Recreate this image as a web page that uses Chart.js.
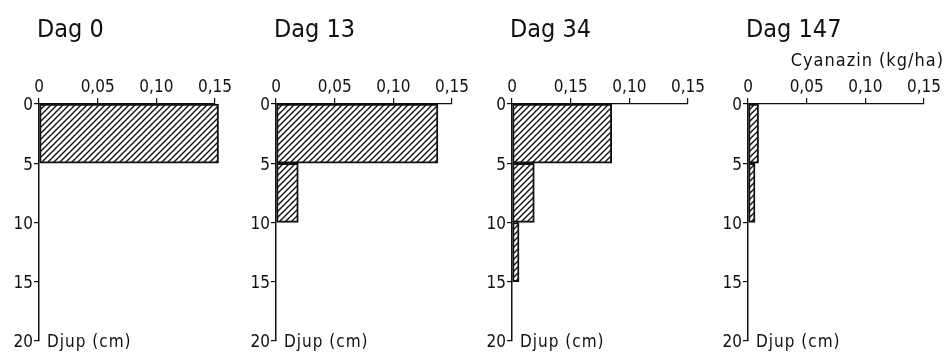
<!DOCTYPE html>
<html>
<head>
<meta charset="utf-8">
<script src="https://cdn.jsdelivr.net/npm/chart.js@4.4.1/dist/chart.umd.min.js"></script>
<style>
  body { margin: 0; background: #fff; }
  #wrap { position: relative; width: 945px; height: 353px; overflow: hidden; }
  .panel { position: absolute; top: 0; width: 236px; height: 353px; }
</style>
</head>
<body>
<div id="wrap">
  <div class="panel" style="left:0px"><canvas id="c0"></canvas></div>
  <div class="panel" style="left:237px"><canvas id="c1"></canvas></div>
  <div class="panel" style="left:473px"><canvas id="c2"></canvas></div>
  <div class="panel" style="left:709px"><canvas id="c3"></canvas></div>
</div>
<script>
// Jordlager (cm), överkant
const depthTop = [0, 5, 10, 15];
const layerSize = 5;

// Cyanazin (kg/ha) per lager
const days = ["Dag 0", "Dag 13", "Dag 34", "Dag 147"];
const dag0 = [0.153, 0, 0, 0];
const dag13 = [0.138, 0.019, 0, 0];
const dag34 = [0.085, 0.019, 0.006, 0];
const dag147 = [0.009, 0.006, 0, 0];

// tick labels (Dag 34 har "0,15" på 0,05-platsen i originalet)
const xTicksStd = ["0", "0,05", "0,10", "0,15"];
const xTicks34 = ["0", "0,15", "0,10", "0,15"];
const yTicks = [0, 5, 10, 15, 20];

const FONT = '"DejaVu Sans Condensed", "DejaVu Sans", sans-serif';
const INK = "#111";

function hatch() {
  const s = 6;
  const c = document.createElement("canvas");
  c.width = s; c.height = s;
  const g = c.getContext("2d");
  g.strokeStyle = INK;
  g.lineWidth = 1.4;
  g.beginPath();
  g.moveTo(0, s); g.lineTo(s, 0);
  g.moveTo(-1, 1); g.lineTo(1, -1);
  g.moveTo(s - 1, s + 1); g.lineTo(s + 1, s - 1);
  g.stroke();
  return g.createPattern(c, "repeat");
}

// rubrik, djup-etikett, enhet
const panelText = {
  id: "panelText",
  afterDraw(chart, args, opts) {
    const { ctx, chartArea, scales } = chart;
    ctx.save();
    ctx.fillStyle = INK;
    ctx.textBaseline = "alphabetic";
    ctx.font = "25px " + FONT;
    ctx.fillText(opts.title, chartArea.left - 2, 37);
    ctx.font = "17px " + FONT;
    ctx.letterSpacing = "1px";
    ctx.fillText("Djup (cm)", chartArea.left + 8, scales.y.getPixelForValue(20) + 6);
    if (opts.unit) {
      ctx.textAlign = "right";
      ctx.font = "18px " + FONT;
      ctx.fillText(opts.unit, chart.width - 1, 66);
    }
    ctx.restore();
  },
};

const series = [dag0, dag13, dag34, dag147];
const pattern = hatch();

series.forEach((vals, i) => {
  const points = [];
  vals.forEach((v, k) => {
    if (v > 0) points.push({ x: v, y: depthTop[k] + layerSize / 2 });
  });
  const labels = i === 2 ? xTicks34 : xTicksStd;

  new Chart(document.getElementById("c" + i), {
    type: "bar",
    data: {
      datasets: [{
        data: points,
        backgroundColor: pattern,
        borderColor: INK,
        borderWidth: 1.3,
        borderSkipped: false,
        barPercentage: 1,
        categoryPercentage: 1,
        clip: false,
      }],
    },
    options: {
      indexAxis: "y",
      responsive: true,
      maintainAspectRatio: false,
      animation: false,
      layout: { padding: { left: 3, right: 21, top: 0, bottom: 12 } },
      plugins: {
        legend: { display: false },
        tooltip: { enabled: false },
        panelText: { title: days[i], unit: i === 3 ? "Cyanazin (kg/ha)" : null },
      },
      scales: {
        x: {
          type: "linear",
          position: "top",
          min: 0,
          max: 0.15,
          afterFit(scale) { scale.height = 104; },
          afterBuildTicks(scale) {
            scale.ticks = [0, 0.05, 0.1, 0.15].map(v => ({ value: v }));
          },
          ticks: {
            color: INK,
            font: { family: FONT, size: 17 },
            padding: 0,
            maxRotation: 0,
            autoSkip: false,
            callback: (v, idx) => labels[idx],
          },
          grid: { drawOnChartArea: false, drawTicks: true, tickLength: 6, color: INK, lineWidth: 1.2 },
          border: { display: true, color: INK, width: 1.3 },
        },
        y: {
          type: "linear",
          reverse: true,
          min: 0,
          max: 20,
          offset: false,
          afterFit(scale) { scale.width = 36; },
          afterBuildTicks(scale) {
            scale.ticks = yTicks.map(v => ({ value: v }));
          },
          ticks: {
            color: INK,
            font: { family: FONT, size: 17 },
            padding: 1,
            labelOffset: 2,
            autoSkip: false,
          },
          grid: { offset: false, drawOnChartArea: false, drawTicks: true, tickLength: 5, color: INK, lineWidth: 1.2 },
          border: { display: true, color: INK, width: 1.5 },
        },
      },
    },
    plugins: [panelText],
  });
});
</script>
</body>
</html>
